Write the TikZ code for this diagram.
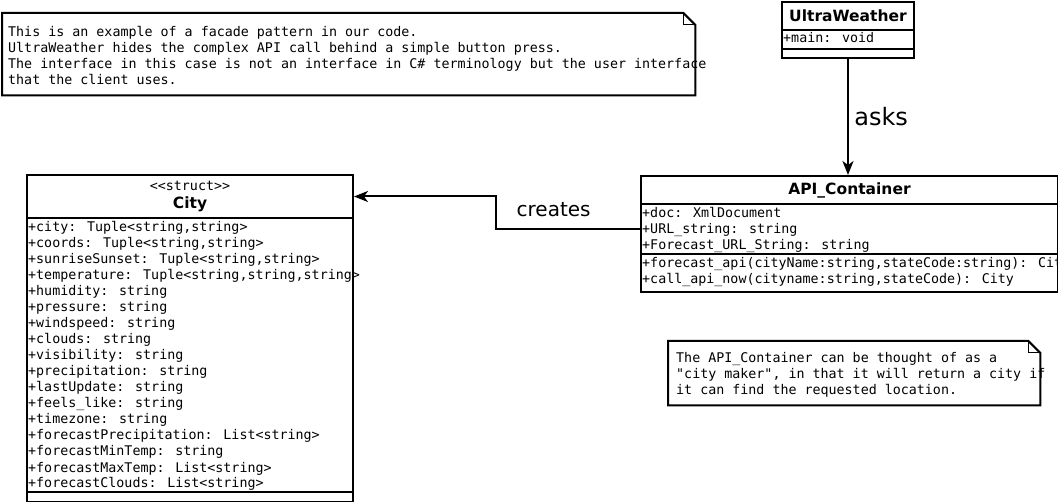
\documentclass[tikz,border=0pt]{standalone}
\usepackage{fontspec}
\setmainfont{DejaVu Sans}
\newfontfamily\membfont{DejaVu Sans Mono}
\usetikzlibrary{arrows.meta,positioning,calc}
\newcommand{\memberstyle}{\membfont\mdseries\fontsize{13.33}{16}\selectfont}
\newcommand{\headstyle}{\fontsize{15.5}{18}\selectfont\bfseries}

\begin{document}
\begin{tikzpicture}[x=1pt, y=-1pt,
    classpart/.style={draw, line width=2pt, inner sep=0pt, anchor=north west},
    classhead/.style={classpart, font=\headstyle, align=center},
    member/.style={anchor=base west, inner sep=0pt, font=\memberstyle},
    notebox/.style={inner sep=0pt, anchor=north west},
    noteline/.style={line width=2pt, line join=miter},
    connector/.style={line width=2pt, -{Stealth[length=14pt, width=11pt, inset=4pt]}},
    linkfont/.style={font=\fontsize{#1}{#1}\selectfont}
]
    \useasboundingbox (0,0) rectangle (1058,502);

    % Facade note
    \node[notebox, minimum width=693pt, minimum height=82pt] (facadenote) at (2,13) {};
    \draw[noteline] (facadenote.north west) -- ([xshift=-12pt]facadenote.north east)
        -- ([yshift=-12pt]facadenote.north east) -- (facadenote.south east)
        -- (facadenote.south west) -- cycle;
    \draw[line width=1pt] ([xshift=-12pt]facadenote.north east) -- ++(0,12) -- ++(12,0);
    \foreach \txt [count=\n] in {
        {This is an example of a facade pattern in our code.},
        {UltraWeather hides the complex API call behind a simple button press.},
        {The interface in this case is not an interface in C\# terminology but the user interface},
        {that the client uses.}} {
        \node[member] (facadeline\n) at (8,{21+16*\n}) {\txt};
    }

    % UltraWeather class
    \node[classhead, minimum width=132pt, minimum height=28pt] (ultrahead) at (781,1) {UltraWeather};
    \node[classpart, minimum width=132pt, minimum height=19pt] (ultraattr) at (781,29) {};
    \node[classpart, minimum width=132pt, minimum height=9pt] (ultrameth) at (781,48) {};
    \node[member] (ultramain) at (783,43) {+main: void};

    % API_Container class
    \node[classhead, minimum width=417pt, minimum height=28pt] (apihead) at (640,175) {API\_Container};
    \node[classpart, minimum width=417pt, minimum height=50pt] (apiattr) at (640,203) {};
    \node[classpart, minimum width=417pt, minimum height=38pt] (apimeth) at (640,253) {};
    \foreach \txt [count=\n] in {
        {+doc: XmlDocument},
        {+URL\_string: string},
        {+Forecast\_URL\_String: string}} {
        \node[member] (apiattr\n) at (642,{202+16*\n}) {\txt};
    }
    \foreach \txt [count=\n] in {
        {+forecast\_api(cityName:string,stateCode:string): City},
        {+call\_api\_now(cityname:string,stateCode): City}} {
        \node[member] (apimeth\n) at (642,{252+16*\n}) {\txt};
    }

    % City struct
    \node[classhead, minimum width=326pt, minimum height=43pt] (cityhead) at (26,174)
        {{\memberstyle <<struct>>}\\City};
    \node[classpart, minimum width=326pt, minimum height=274pt] (cityattr) at (26,217) {};
    \node[classpart, minimum width=326pt, minimum height=10pt] (citymeth) at (26,491) {};
    \foreach \txt [count=\n] in {
        {+city: Tuple<string,string>},
        {+coords: Tuple<string,string>},
        {+sunriseSunset: Tuple<string,string>},
        {+temperature: Tuple<string,string,string>},
        {+humidity: string},
        {+pressure: string},
        {+windspeed: string},
        {+clouds: string},
        {+visibility: string},
        {+precipitation: string},
        {+lastUpdate: string},
        {+feels\_like: string},
        {+timezone: string},
        {+forecastPrecipitation: List<string>},
        {+forecastMinTemp: string},
        {+forecastMaxTemp: List<string>},
        {+forecastClouds: List<string>}} {
        \node[member] (citymember\n) at (28,{216+16*\n}) {\txt};
    }

    % Container note
    \node[notebox, minimum width=372pt, minimum height=64pt] (containernote) at (668,341) {};
    \draw[noteline] (containernote.north west) -- ([xshift=-12pt]containernote.north east)
        -- ([yshift=-12pt]containernote.north east) -- (containernote.south east)
        -- (containernote.south west) -- cycle;
    \draw[line width=1pt] ([xshift=-12pt]containernote.north east) -- ++(0,12) -- ++(12,0);
    \foreach \txt [count=\n] in {
        {The API\_Container can be thought of as a},
        {"city maker", in that it will return a city if},
        {it can find the requested location.}} {
        \node[member] (noteline\n) at (676,{347+16*\n}) {\txt};
    }

    % Connectors
    \draw[connector] (ultrameth.south) -- (ultrameth.south |- apihead.north)
        node[midway, right=2pt, linkfont=24] (askslabel) {asks};
    \coordinate (createsbend) at (496,228);
    \draw[connector] (apiattr.west) -- (apiattr.west -| createsbend)
        node[pos=0.6, above=8pt, linkfont=20] (createslabel) {creates}
        |- (cityhead.east);
\end{tikzpicture}
\end{document}
